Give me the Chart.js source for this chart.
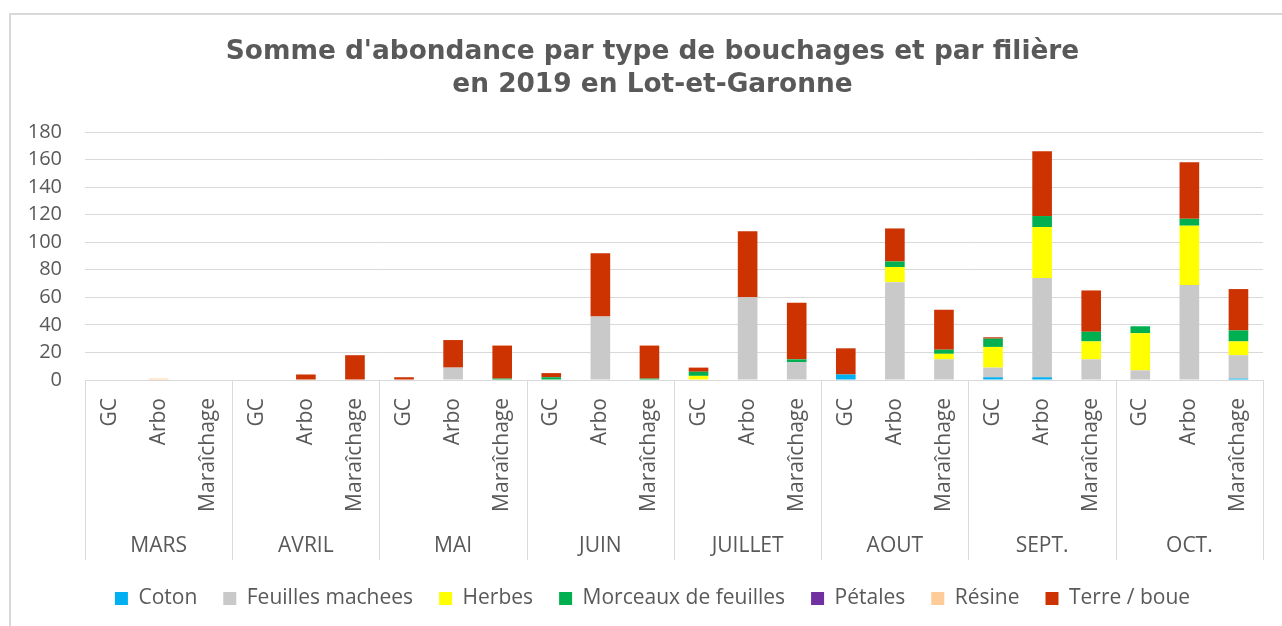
<!DOCTYPE html>
<html lang="fr">
<head>
<meta charset="utf-8">
<title>Somme d'abondance par type de bouchages</title>
<script src="https://cdn.jsdelivr.net/npm/chart.js@4"></script>
<style>
    body { margin: 0; background: #fff; overflow: hidden; }
    #cadre {
        position: absolute; left: 9px; top: 13px;
        width: 1320px; height: 700px;
        border: 2px solid #d9d9d9;
    }
    #graph { position: absolute; left: 0; top: 0; }
</style>
</head>
<body>
<div id="cadre"></div>
<canvas id="graph" width="1282" height="626"></canvas>

<script>
// Donnees
const mois = ["MARS", "AVRIL", "MAI", "JUIN", "JUILLET", "AOUT", "SEPT.", "OCT."];
const filieres = ["GC", "Arbo", "Maraîchage"];

//            MARS     AVRIL     MAI       JUIN      JUILLET    AOUT       SEPT.      OCT.
const coton    = [0,0,0,  0,0,0,   0,0,0,    0,0,0,    0,0,0,     4,0,0,     2,2,0,     0,0,1];
const feuilles = [0,0,0,  0,0,0,   0,9,0,    0,46,0,   0,60,13,   0,71,15,   7,72,15,   7,69,17];
const herbes   = [0,0,0,  0,0,0,   0,0,0,    0,0,0,    3,0,0,     0,11,4,    15,37,13,  27,43,10];
const morceaux = [0,0,0,  0,0,0,   0,0,1,    2,0,1,    3,0,2,     0,4,3,     6,8,7,     5,5,8];
const petales  = [0,0,0,  0,0,0,   0,0,0,    0,0,0,    0,0,0,     0,0,0,     0,0,0,     0,0,0];
const resine   = [0,1,0,  0,0,0,   0,0,0,    0,0,0,    0,0,0,     0,0,0,     0,0,0,     0,0,0];
const terre    = [0,0,0,  0,4,18,  2,20,24,  3,46,24,  3,48,41,   19,24,29,  1,47,30,   0,41,30];

const yTicks = [0, 20, 40, 60, 80, 100, 120, 140, 160, 180];

// une etiquette par barre (filiere), les mois sont dessines en dessous
const labels = [];
mois.forEach(() => filieres.forEach(f => labels.push(f)));

const gris = "#595959";
const police = "'Open Sans', sans-serif";

// Axe a deux niveaux: separateurs et noms des mois
const axeMois = {
    id: "axeMois",
    afterLayout(chart) {
        // laisser la place aux etiquettes "180", "160"... a gauche de l'axe
        chart.scales.y.left = 0;
    },
    afterDraw(chart) {
        const { ctx, chartArea, scales: { x } } = chart;
        const n = filieres.length;
        ctx.save();
        ctx.strokeStyle = "#d9d9d9";
        ctx.lineWidth = 1;
        for (let g = 0; g <= mois.length; g++) {
            const px = Math.round(x.getPixelForValue(g * n - 0.5)) + 0.5;
            ctx.beginPath();
            ctx.moveTo(px, chartArea.bottom);
            ctx.lineTo(px, 560);
            ctx.stroke();
        }
        ctx.fillStyle = gris;
        ctx.font = "21px " + police;
        ctx.textAlign = "center";
        ctx.textBaseline = "middle";
        mois.forEach((m, g) => {
            ctx.fillText(m, x.getPixelForValue(g * n + 1), 546);
        });
        ctx.restore();
    }
};

const ctx = document.getElementById("graph").getContext("2d");

new Chart(ctx, {
    type: "bar",
    data: {
        labels,
        datasets: [
            { label: "Coton", data: coton, backgroundColor: "#00b0f0" },
            { label: "Feuilles machees", data: feuilles, backgroundColor: "#c9c9c9" },
            { label: "Herbes", data: herbes, backgroundColor: "#ffff00" },
            { label: "Morceaux de feuilles", data: morceaux, backgroundColor: "#00b050" },
            { label: "Pétales", data: petales, backgroundColor: "#7030a0" },
            { label: "Résine", data: resine, backgroundColor: "#ffcc99" },
            { label: "Terre / boue", data: terre, backgroundColor: "#cc3300" }
        ]
    },
    options: {
        responsive: false,
        animation: false,
        layout: { padding: { top: 20, left: 40, right: 17, bottom: 7 } },
        datasets: {
            bar: { categoryPercentage: 1, barPercentage: 0.4 }
        },
        scales: {
            x: {
                stacked: true,
                grid: { display: false, drawTicks: false },
                border: { display: true, color: "#d9d9d9", width: 1 },
                ticks: {
                    color: gris,
                    font: { family: police, size: 21 },
                    minRotation: 90,
                    maxRotation: 90,
                    autoSkip: false,
                    padding: 18
                },
                afterFit: (scale) => { scale.height = 182; }
            },
            y: {
                stacked: true,
                min: 0,
                max: 180,
                grid: { color: "#d9d9d9", lineWidth: 1, drawTicks: false },
                border: { display: false },
                afterBuildTicks: (scale) => { scale.ticks = yTicks.map(v => ({ value: v })); },
                ticks: {
                    color: gris,
                    font: { family: police, size: 20 },
                    padding: 23
                },
                afterFit: (scale) => { scale.width = 45; }
            }
        },
        plugins: {
            title: {
                display: true,
                text: ["Somme d'abondance par type de bouchages et par filière", "en 2019 en Lot-et-Garonne"],
                color: gris,
                font: { family: "'DejaVu Sans', sans-serif", size: 26.4, weight: "bold", lineHeight: 1.25 },
                padding: { top: 16, bottom: 30 }
            },
            legend: {
                position: "bottom",
                labels: {
                    color: gris,
                    font: { family: police, size: 21 },
                    boxWidth: 13,
                    boxHeight: 13,
                    padding: 26
                }
            },
            tooltip: { enabled: false }
        }
    },
    plugins: [axeMois]
});
</script>
</body>
</html>
